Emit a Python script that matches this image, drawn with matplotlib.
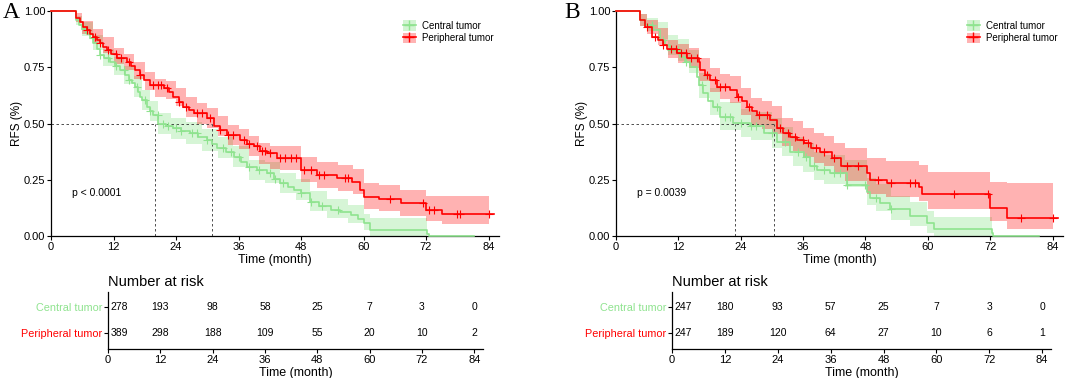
import numpy as np
import matplotlib
matplotlib.use("Agg")
import matplotlib.pyplot as plt
from matplotlib.patches import Patch
from matplotlib.lines import Line2D

plt.rcParams['font.family'] = ['Liberation Sans', 'DejaVu Sans']

# ---- data ----
groups = ["Central tumor", "Peripheral tumor"]
risk_times = [0, 12, 24, 36, 48, 60, 72, 84]

# panel A
a_cen_t = [0, 4.8, 5.4, 6.0, 6.9, 7.5, 8.1, 8.8, 9.4, 10.2, 11.3, 12.3, 13.3, 14.2, 14.9, 15.6, 16.2, 16.7,
           17.1, 17.5, 18.4, 19.0, 19.6, 20.6, 22.0, 23.5, 25.0, 26.7, 28.3, 29.9, 31.0, 31.9, 33.5, 35.1,
           36.5, 37.6, 39.5, 41.5, 42.8, 44.0, 45.5, 46.6, 47.9, 49.8, 51.5, 53.7, 55.5, 57.5, 59.0, 60.1,
           61.3, 72.2, 72.6, 81.2]
a_cen_s = [1, 0.96, 0.94, 0.92, 0.90, 0.88, 0.857, 0.83, 0.804, 0.79, 0.775, 0.755, 0.738, 0.715, 0.693,
           0.68, 0.664, 0.64, 0.62, 0.604, 0.575, 0.555, 0.538, 0.50, 0.49, 0.478, 0.467, 0.456, 0.44,
           0.427, 0.41, 0.39, 0.372, 0.353, 0.33, 0.308, 0.293, 0.279, 0.255, 0.234, 0.219, 0.204, 0.19,
           0.152, 0.135, 0.116, 0.105, 0.093, 0.075, 0.056, 0.027, 0.009, 0.0, 0.0]
a_cen_ci_t = [0, 4.8, 6, 8, 10, 12, 14, 16, 17.5, 19, 20.6, 23, 26, 29, 32, 35, 38, 41, 44, 47, 49.8,
              53, 57, 60.1, 61.3, 72.2]
a_cen_lo = [1, 0.94, 0.89, 0.825, 0.755, 0.715, 0.675, 0.62, 0.56, 0.51, 0.455, 0.43, 0.41, 0.38,
            0.345, 0.305, 0.25, 0.235, 0.19, 0.16, 0.11, 0.08, 0.06, 0.025, 0.0, 0.0]
a_cen_hi = [1, 0.98, 0.95, 0.895, 0.83, 0.795, 0.755, 0.71, 0.65, 0.60, 0.545, 0.525, 0.505, 0.475,
            0.44, 0.40, 0.34, 0.33, 0.28, 0.255, 0.20, 0.165, 0.14, 0.10, 0.08, 0.08]
a_cen_cens = [6.5, 8, 9.5, 11, 12.5, 14, 15, 16.5, 18, 19, 20.5, 21.5, 22.5, 24, 25, 27, 28, 30, 33,
              34.5, 36, 38, 40, 42, 43, 44.5, 48, 50, 52, 55]

a_per_t = [0, 4.8, 5.6, 6.2, 6.9, 7.5, 8.1, 8.8, 9.4, 10.0, 10.7, 11.6, 12.6, 14.6, 15.4, 16.2, 17.0,
           17.8, 19.0, 21.6, 22.6, 23.5, 24.5, 25.4, 26.4, 27.4, 29.9, 31.2, 32.5, 33.8, 36.3, 37.6,
           38.9, 40.2, 41.5, 43.4, 48.0, 51.1, 54.9, 57.8, 59.4, 60.1, 62.9, 67.1, 71.9, 75.1, 85.0]
a_per_s = [1, 0.97, 0.95, 0.93, 0.915, 0.90, 0.886, 0.87, 0.857, 0.84, 0.828, 0.81, 0.79, 0.775, 0.755,
           0.738, 0.715, 0.693, 0.671, 0.657, 0.64, 0.619, 0.597, 0.575, 0.56, 0.545, 0.523, 0.49, 0.47,
           0.449, 0.427, 0.41, 0.398, 0.38, 0.367, 0.345, 0.293, 0.271, 0.256, 0.241, 0.204, 0.175,
           0.163, 0.145, 0.116, 0.096, 0.096]
a_per_ci_t = [0, 4.8, 6, 8, 10, 12, 14, 16, 18, 20, 22, 24, 26, 28, 30, 32, 34, 36, 38, 40, 42, 44, 48,
              51, 55, 58, 60, 63, 67, 72, 75, 84]
a_per_lo = [1, 0.95, 0.90, 0.86, 0.815, 0.765, 0.74, 0.70, 0.65, 0.62, 0.61, 0.58, 0.53, 0.50, 0.48,
            0.445, 0.405, 0.385, 0.355, 0.32, 0.30, 0.295, 0.24, 0.215, 0.20, 0.185, 0.12, 0.11, 0.09,
            0.065, 0.055, 0.055]
a_per_hi = [1, 0.99, 0.955, 0.92, 0.885, 0.835, 0.81, 0.775, 0.73, 0.70, 0.69, 0.66, 0.62, 0.59, 0.57,
            0.535, 0.495, 0.475, 0.445, 0.415, 0.40, 0.40, 0.35, 0.33, 0.315, 0.30, 0.235, 0.225, 0.205,
            0.18, 0.18, 0.18]
a_per_cens = [7, 8.5, 9.5, 11, 12.5, 13.5, 15, 17, 19.5, 20.5, 21.2, 22.3, 24.5, 26, 28, 29, 30.5,
              32.5, 34, 35, 37, 38, 39.5, 40.5, 41, 42, 44, 45, 46, 47, 48.5, 50, 51.5, 52.5, 56.5, 57,
              65, 71.5, 72.5, 73.5, 78, 78.5, 84]
a_medians = [20.0, 31.0]
a_risk_cen = [278, 193, 98, 58, 25, 7, 3, 0]
a_risk_per = [389, 298, 188, 109, 55, 20, 10, 2]
a_pval = "p < 0.0001"

# panel B
b_cen_t = [0, 4.6, 5.6, 7.2, 8.5, 9.5, 10.4, 12.3, 13.2, 14.2, 15.5, 16.0, 16.8, 17.7, 18.7, 20.0,
           22.6, 25.8, 28.4, 31.0, 33.5, 36.1, 37.4, 38.7, 41.2, 44.4, 48.3, 48.9, 50.8, 52.8, 56.6,
           59.9, 61.1, 72.3, 72.6, 81.3]
b_cen_s = [1, 0.96, 0.94, 0.915, 0.871, 0.85, 0.827, 0.797, 0.775, 0.753, 0.708, 0.67, 0.634, 0.60,
           0.575, 0.531, 0.501, 0.487, 0.457, 0.42, 0.375, 0.35, 0.313, 0.293, 0.279, 0.227, 0.197,
           0.167, 0.145, 0.12, 0.091, 0.056, 0.03, 0.015, 0.0, 0.0]
b_cen_ci_t = [0, 4.6, 6, 8, 10, 12, 14, 16, 18, 20, 22, 24, 26, 28, 30, 32, 34, 36, 38, 40, 44, 48.3,
              50, 53, 56.6, 59.9, 61.1, 72.3]
b_cen_lo = [1, 0.935, 0.91, 0.875, 0.805, 0.78, 0.725, 0.615, 0.54, 0.47, 0.47, 0.44, 0.425, 0.425,
            0.39, 0.355, 0.31, 0.285, 0.25, 0.23, 0.22, 0.14, 0.11, 0.07, 0.045, 0.015, 0.0, 0.0]
b_cen_hi = [1, 0.985, 0.97, 0.95, 0.895, 0.875, 0.825, 0.725, 0.66, 0.595, 0.595, 0.565, 0.55, 0.55,
            0.525, 0.485, 0.44, 0.415, 0.375, 0.36, 0.34, 0.26, 0.23, 0.18, 0.15, 0.11, 0.085, 0.085]
b_cen_cens = [7, 9, 10.5, 12, 13.5, 16.5, 19.5, 21, 22, 24, 26, 27, 30, 32.5, 35, 36.5, 38, 40, 42,
              43, 44.5, 48, 50, 53]

b_per_t = [0, 4.6, 5.6, 6.9, 8.1, 9.0, 9.8, 11.7, 13.6, 15.9, 16.2, 17.2, 18.1, 19.4, 22.0, 23.2,
           24.2, 25.2, 26.2, 27.1, 29.7, 30.9, 32.2, 33.5, 34.8, 36.1, 37.5, 39.3, 41.6, 43.2, 48.3,
           48.9, 52.1, 58.2, 58.9, 72.0, 75.2, 85.0]
b_per_s = [1, 0.96, 0.93, 0.886, 0.87, 0.849, 0.83, 0.812, 0.79, 0.775, 0.738, 0.715, 0.693, 0.664,
           0.649, 0.619, 0.60, 0.575, 0.555, 0.538, 0.516, 0.479, 0.46, 0.442, 0.425, 0.412, 0.39,
           0.375, 0.345, 0.313, 0.279, 0.249, 0.237, 0.22, 0.185, 0.123, 0.081, 0.081]
b_per_ci_t = [0, 4.6, 6, 8, 10, 12, 14, 16, 18, 20, 22, 24, 26, 28, 30, 32, 34, 36, 38, 40, 42, 44,
              48.3, 52, 58.2, 60, 72, 75.2, 84]
b_per_lo = [1, 0.935, 0.90, 0.85, 0.79, 0.77, 0.745, 0.69, 0.64, 0.61, 0.59, 0.54, 0.495, 0.475,
            0.455, 0.40, 0.38, 0.35, 0.325, 0.31, 0.28, 0.245, 0.185, 0.175, 0.155, 0.12, 0.065, 0.03,
            0.03]
b_per_hi = [1, 0.985, 0.96, 0.925, 0.87, 0.855, 0.835, 0.79, 0.745, 0.72, 0.71, 0.66, 0.615, 0.60,
            0.58, 0.525, 0.51, 0.48, 0.46, 0.445, 0.415, 0.39, 0.345, 0.335, 0.315, 0.285, 0.24,
            0.235, 0.235]
b_per_cens = [6, 7.5, 9, 10.5, 11.5, 12.5, 13.5, 14.5, 15.5, 17.5, 19, 20, 21, 23.5, 25.5, 27.5, 29,
              31.5, 33, 34.5, 36, 37, 38.5, 40, 42, 44.5, 46.5, 50.5, 53, 56.5, 57.5, 65, 71.5, 78, 84]
b_medians = [22.8, 30.4]
b_risk_cen = [247, 180, 93, 57, 25, 7, 3, 0]
b_risk_per = [247, 189, 120, 64, 27, 10, 6, 1]
b_pval = "p = 0.0039"

GREEN = "#8fe38f"
GREEN_FILL = "#d2f4d2"
RED = "#ff0000"
RED_FILL = "#ffb3b3"

W, H = 1065, 378
fig = plt.figure(figsize=(W / 100, H / 100), dpi=100)


def px(x0, y0, w, h):
    # pixel box (left, top, width, height) -> figure fraction
    return [x0 / W, 1 - (y0 + h) / H, w / W, h / H]


def step_at(t, s, c):
    i = np.searchsorted(t, c, side="right") - 1
    return np.asarray(s)[i]


def km_panel(ax, curves, medians, pval):
    for t, s, ci_t, lo, hi, cens, line_c, fill_c, fa in curves:
        ax.fill_between(ci_t, lo, hi, step="post", color=fill_c, alpha=fa, lw=0)
    for t, s, ci_t, lo, hi, cens, line_c, fill_c, fa in curves:
        ax.step(t, s, where="post", color=line_c, lw=1.2, clip_on=False, zorder=3)
        ax.plot(cens, step_at(t, s, cens), ls="none", marker="+", ms=6, mew=0.8, color=line_c,
                zorder=3)
    ax.plot([0, max(medians)], [0.5, 0.5], ls=(0, (3, 3)), color="#333333", lw=0.6)
    for m in medians:
        ax.plot([m, m], [0, 0.5], ls=(0, (3, 3)), color="#333333", lw=0.6)
    ax.text(4, 0.19, pval, fontsize=7.5, va="center")
    ax.set_xlim(0, 86)
    ax.set_ylim(0, 1)
    ax.set_xticks(risk_times)
    ax.set_yticks([0, 0.25, 0.5, 0.75, 1.0])
    ax.set_yticklabels(["0.00", "0.25", "0.50", "0.75", "1.00"])
    ax.set_xlabel("Time (month)", fontsize=9, labelpad=2)
    ax.set_ylabel("RFS (%)", fontsize=8.5, labelpad=1)
    for sp in ("top", "right"):
        ax.spines[sp].set_visible(False)
    for sp in ("left", "bottom"):
        ax.spines[sp].set_linewidth(0.9)
    ax.tick_params(labelsize=8, length=3, width=0.8, pad=1)
    handles = [(Patch(facecolor=GREEN_FILL, edgecolor="none"),
                Line2D([], [], color=GREEN, lw=1.2, marker="+", ms=7)),
               (Patch(facecolor=RED_FILL, edgecolor="none"),
                Line2D([], [], color=RED, lw=1.2, marker="+", ms=7))]
    ax.legend(handles, groups, loc="upper right", bbox_to_anchor=(1.0, 0.985), frameon=False,
              fontsize=7, handlelength=1.35, handleheight=1.35, handletextpad=0.6,
              labelspacing=0.15, borderaxespad=0.2)


def risk_panel(ax, cen, per):
    for row_y, vals in ((0.737, cen), (0.28, per)):
        for x, v in zip(risk_times, vals):
            if x == 0:
                ax.text(0.6, row_y, str(v), ha="left", va="center", fontsize=7.5)
            else:
                ax.text(x, row_y, str(v), ha="center", va="center", fontsize=7.5)
    ax.set_xlim(0, 86)
    ax.set_ylim(0, 1)
    ax.set_xticks(risk_times)
    ax.set_yticks([0.737, 0.28])
    ax.set_yticklabels(groups)
    for lab, c in zip(ax.get_yticklabels(), [GREEN, RED]):
        lab.set_color(c)
    for sp in ("top", "right"):
        ax.spines[sp].set_visible(False)
    for sp in ("left", "bottom"):
        ax.spines[sp].set_linewidth(0.9)
    ax.tick_params(labelsize=7.8, length=3, width=0.8, pad=1)
    ax.tick_params(axis="x", labelsize=8)
    ax.set_xlabel("Time (month)", fontsize=9, labelpad=1.5)
    ax.set_title("Number at risk", loc="left", fontsize=10.5, pad=4)


axA = fig.add_axes(px(51, 11, 448, 225))
km_panel(axA, [
    (a_cen_t, a_cen_s, a_cen_ci_t, a_cen_lo, a_cen_hi, a_cen_cens, GREEN, GREEN_FILL, 0.9),
    (a_per_t, a_per_s, a_per_ci_t, a_per_lo, a_per_hi, a_per_cens, RED, RED, 0.3),
], a_medians, a_pval)

axB = fig.add_axes(px(616, 11, 447, 225))
km_panel(axB, [
    (b_cen_t, b_cen_s, b_cen_ci_t, b_cen_lo, b_cen_hi, b_cen_cens, GREEN, GREEN_FILL, 0.9),
    (b_per_t, b_per_s, b_per_ci_t, b_per_lo, b_per_hi, b_per_cens, RED, RED, 0.3),
], b_medians, b_pval)

rA = fig.add_axes(px(108, 292, 375, 57))
risk_panel(rA, a_risk_cen, a_risk_per)
rB = fig.add_axes(px(672, 292, 379, 57))
risk_panel(rB, b_risk_cen, b_risk_per)

fig.text(3 / W, 1 - 2 / H, "A", fontsize=17, va="top", ha="left", family="Liberation Serif")
fig.text(564 / W, 1 - 2 / H, "B", fontsize=17, va="top", ha="left", family="Liberation Serif")

fig.savefig("out.png", dpi=100)
